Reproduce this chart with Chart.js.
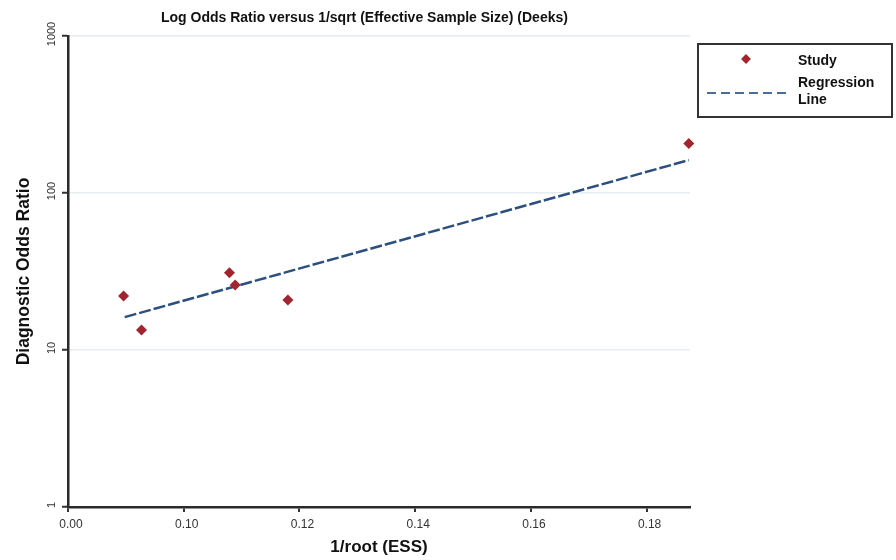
<!DOCTYPE html>
<html><head><meta charset="utf-8">
<script src="https://cdn.jsdelivr.net/npm/chart.js@4.4.0/dist/chart.umd.min.js"></script>
<style>html,body{margin:0;padding:0;background:#fff;}canvas{display:block;}</style>
</head><body>
<canvas id="c" width="896" height="560"></canvas>
<script>
const chartTitle = "Log Odds Ratio versus 1/sqrt (Effective Sample Size) (Deeks)";
const xAxisTitle = "1/root (ESS)";
const yAxisTitle = "Diagnostic Odds Ratio";
const studyX = [0.0896, 0.0927, 0.1079, 0.1089, 0.1180, 0.1873];
const studyY = [22.1, 13.4, 31.1, 25.9, 20.8, 207];
const regressionX = [0.0898, 0.1873];
const regressionY = [16.2, 162];
const xTickValues = [0.08, 0.10, 0.12, 0.14, 0.16, 0.18];
const xTickLabels = ["0.00", "0.10", "0.12", "0.14", "0.16", "0.18"];
const yTickValues = [1, 10, 100, 1000];
const yTickLabels = ["1", "10", "100", "1000"];
const legendStudy = "Study";
const legendRegression = ["Regression", "Line"];

const FONT = "'Liberation Sans', Arial, sans-serif";
Chart.defaults.font.family = FONT;
Chart.defaults.color = '#222';

const markerColor = '#a3242e';
const lineColor = '#2b4f80';

const titlePlugin = {
  id: 'titlePlugin',
  afterDraw(chart) {
    const ctx = chart.ctx;
    ctx.save();
    ctx.font = 'bold 14px ' + FONT;
    ctx.fillStyle = '#111';
    ctx.textAlign = 'left';
    ctx.textBaseline = 'middle';
    ctx.fillText(chartTitle, 161, 18);
    ctx.restore();
  }
};

const yLabelPlugin = {
  id: 'yLabelPlugin',
  afterDraw(chart) {
    const ctx = chart.ctx;
    const ys = chart.scales.y;
    ctx.save();
    ctx.font = '11px ' + FONT;
    ctx.fillStyle = '#333';
    ctx.textAlign = 'center';
    ctx.textBaseline = 'middle';
    yTickValues.forEach((v, i) => {
      const py = ys.getPixelForValue(v);
      ctx.save();
      ctx.translate(ys.right - 16, py - 2);
      ctx.rotate(-Math.PI / 2);
      ctx.fillText(yTickLabels[i], 0, 0);
      ctx.restore();
    });
    ctx.restore();
  }
};

const legendPlugin = {
  id: 'legendPlugin',
  afterDraw(chart) {
    const ctx = chart.ctx;
    const bx = chart.chartArea.right + 8, by = 44, bw = 194, bh = 73;
    ctx.save();
    ctx.strokeStyle = '#333';
    ctx.lineWidth = 2;
    ctx.strokeRect(bx, by, bw, bh);
    // marker
    ctx.fillStyle = markerColor;
    ctx.save();
    ctx.translate(bx + 48, by + 15);
    ctx.rotate(Math.PI / 4);
    ctx.fillRect(-3.5, -3.5, 7, 7);
    ctx.restore();
    // dashed line
    ctx.strokeStyle = '#4a6d9c';
    ctx.lineWidth = 2;
    ctx.setLineDash([9, 5]);
    ctx.beginPath();
    ctx.moveTo(bx + 9, by + 49);
    ctx.lineTo(bx + 89, by + 49);
    ctx.stroke();
    ctx.setLineDash([]);
    // text
    ctx.fillStyle = '#111';
    ctx.font = 'bold 14px ' + FONT;
    ctx.textAlign = 'left';
    ctx.textBaseline = 'middle';
    ctx.fillText(legendStudy, bx + 100, by + 17);
    ctx.fillText(legendRegression[0], bx + 100, by + 39);
    ctx.fillText(legendRegression[1], bx + 100, by + 56);
    ctx.restore();
  }
};

new Chart(document.getElementById('c'), {
  type: 'scatter',
  data: {
    datasets: [
      {
        label: legendStudy,
        data: studyX.map((x, i) => ({ x, y: studyY[i] })),
        pointStyle: 'rectRot',
        pointRadius: 5.5,
        pointHoverRadius: 5.5,
        backgroundColor: markerColor,
        borderColor: markerColor,
        borderWidth: 0,
        clip: false
      },
      {
        type: 'line',
        label: legendRegression.join(' '),
        data: regressionX.map((x, i) => ({ x, y: regressionY[i] })),
        borderColor: lineColor,
        borderWidth: 2.5,
        borderDash: [12, 3],
        pointRadius: 0,
        fill: false,
        clip: false
      }
    ]
  },
  options: {
    responsive: false,
    animation: false,
    events: [],
    layout: { padding: { top: 36, right: 206, left: 0, bottom: 0 } },
    plugins: { legend: { display: false }, title: { display: false }, tooltip: { enabled: false } },
    scales: {
      x: {
        type: 'linear',
        min: 0.08,
        max: 0.1875,
        afterBuildTicks(scale) { scale.ticks = xTickValues.map(v => ({ value: v })); },
        afterFit(scale) { scale.height = 53; },
        ticks: {
          callback: (v, i) => xTickLabels[i],
          font: { size: 12 },
          color: '#333',
          padding: 5,
          labelOffset: 3,
          maxRotation: 0,
          minRotation: 0
        },
        grid: { drawOnChartArea: false, drawTicks: true, tickLength: 5, tickColor: '#333', lineWidth: 2 },
        border: { display: true, color: '#2a2a2a', width: 2.5 },
        title: { display: true, text: xAxisTitle, font: { size: 17, weight: 'bold' }, color: '#111', padding: { top: 0, bottom: 2 } }
      },
      y: {
        type: 'logarithmic',
        min: 1,
        max: 1000,
        afterBuildTicks(scale) { scale.ticks = yTickValues.map(v => ({ value: v })); },
        afterFit(scale) { scale.width = 68; },
        ticks: { display: false },
        grid: {
          drawOnChartArea: true,
          color: ctx => (ctx.tick && ctx.tick.value === 1) ? 'rgba(0,0,0,0)' : '#e2eef0',
          lineWidth: 1.5,
          tickColor: '#333',
          tickLength: 6,
          tickWidth: 2
        },
        border: { display: true, color: '#2a2a2a', width: 2.5 },
        title: { display: true, text: yAxisTitle, font: { size: 17.5, weight: 'bold' }, color: '#111', padding: { top: 14, bottom: 0 } }
      }
    }
  },
  plugins: [titlePlugin, yLabelPlugin, legendPlugin]
});
</script>
</body></html>
